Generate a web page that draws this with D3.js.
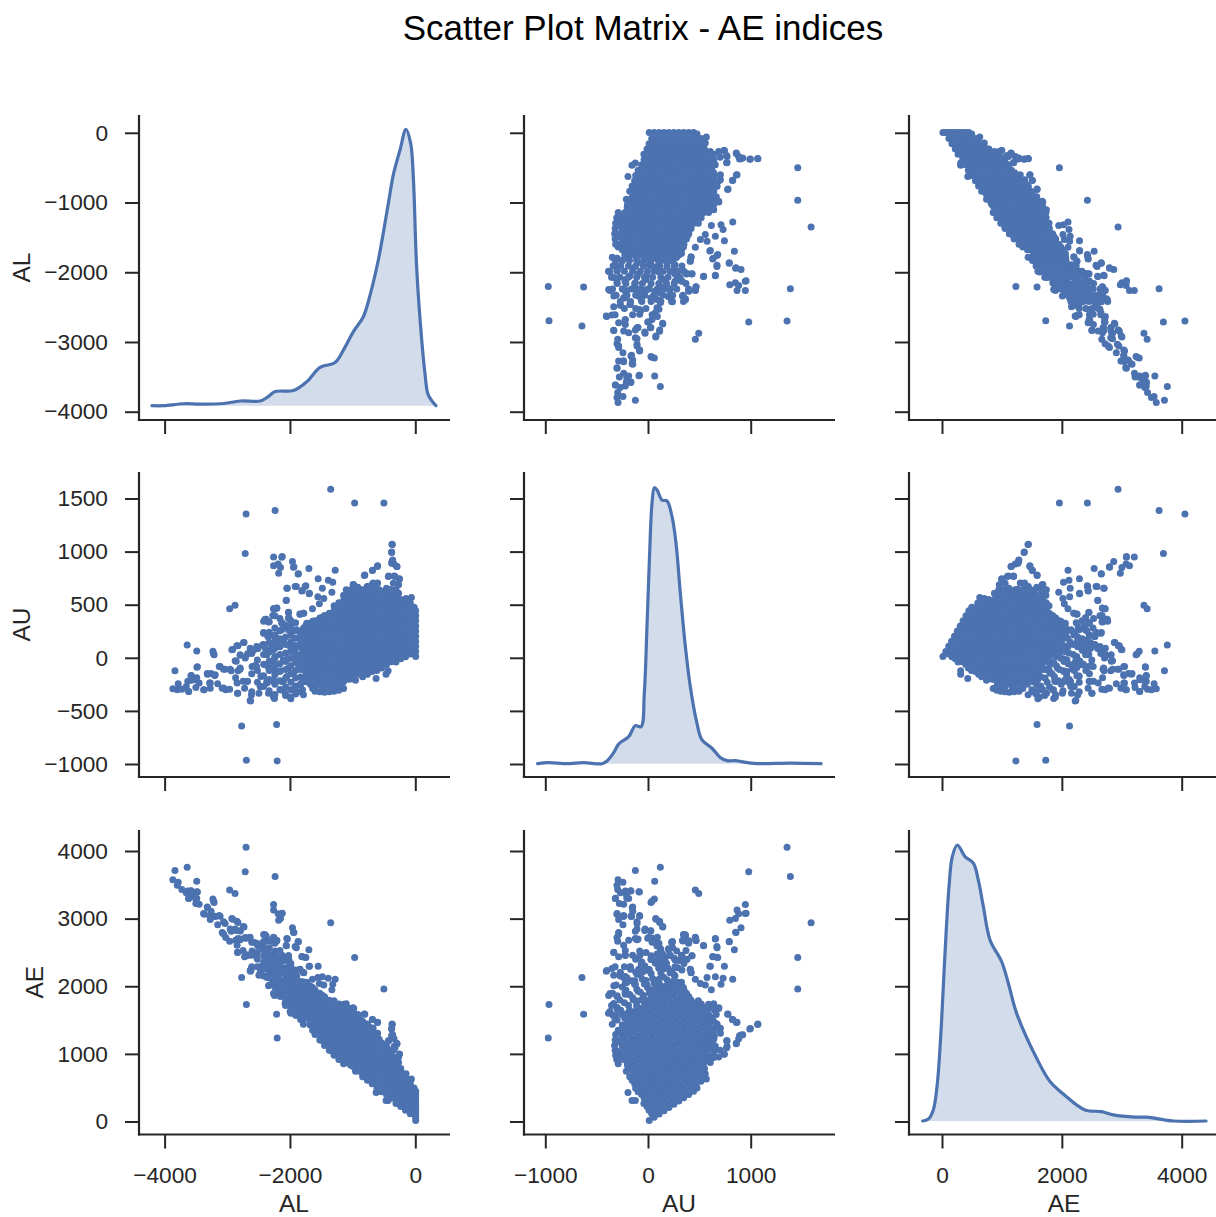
<!DOCTYPE html>
<html><head><meta charset="utf-8">
<script src="https://cdn.jsdelivr.net/npm/d3@7"></script>
<style>html,body{margin:0;padding:0;background:#fff;overflow:hidden}svg{display:block}text{font-family:"Liberation Sans",Arial,sans-serif;fill:#262626}</style>
</head><body><svg id="c" width="1216" height="1217"></svg>
<script>
const title = "Scatter Plot Matrix - AE indices";
const names = ["AL","AU","AE"];
const tickValsX = [[-4000,-2000,0],[-1000,0,1000],[0,2000,4000]];
const tickValsY = [[-4000,-3000,-2000,-1000,0],[-1000,-500,0,500,1000,1500],[0,1000,2000,3000,4000]];

// Scattered samples
const sparseAL = [-3868,-3797,-3783,-3725,-3616,-3654,-3630,-3573,-3573,-3487,-3501,-3449,-3368,-3272,-3282,-3201,-3258,-3320,-3477,-3835,-3487,-3640,-3210,-3229,-3024,-3081,-2962,-3153,-3034,-3115,-2938,-2867,-2843,-2833,-2724,-2676,-2748,-2795,-2829,-2857,-2914,-2829,-2795,-2714,-2733,-2676,-2628,-2614,-2495,-2471,-2461,-2533,-2604,-2581,-2509,-2437,-2414,-2342,-2342,-2380,-2256,-2256,-2209,-2237,-2390,-2271,-2247,-2285,-2342,-2366,-2271,-2247,-2151,-2104,-2151,-2032,-1937,-2104,-2127,-2104,-1984,-2018,-2022,-2056,-2042,-1898,-1803,-1746,-1689,-1779,-1841,-1641,-1550,-1698,-1865,-1937,-1960,-2123,-2180,-2151,-2189,-2261,-2261,-1278,-1317,-1388,-1331,-1483,-1555,-1531,-1460,-806,-682,-601,-625,-954,-434,-467,-367,-377,-372,-339,-291,-425,-339,-253,-267,-267,-267,-410,-148,-62,-19,-601,-768,-673,-577,-983,-1102,-935,-501,-968,-1350,-2237,-2700,-2714,-2204,-2213,-2695,-2771,-2962,-2876,
 -372,-378,-361,-297,-377,-430,-324,-255,-350,-324,-605,-685,-813,
 -2635,-2529,-2422,-2289,-2210,-2104,-1997,-1917,-2369,-2236,-2104,-2263,-2396,-2555,-2316,-2210,-2459,-2263,-2369,-2130,-2050,-2475,-2342,-2263,-2077,-1997,-1891,-1785,-1970,-1838,-1944,-2024,-1864,-1891,-1838,-1838,-1785,-1732,
 -3580,-3314,-3192,-3271,-3484,-3128,-3059,-2953,-2794,-2874,-2794,-2714,-2927,-2847,-2741,-3219,-3511,-3617,-3378,-3059,-2837,-2635,-2688,
 -2130,-1944,-1870,-2050,-1917,-1758,-1811,-1694,-2061,-2024,-2024,-1838,-1785,-2263,-2210,-2273,-2396,-2342,-2422,-2252,-2353,-2130,-2130,-2024,-1891];
const sparseAU = [-292,-302,-244,-295,-318,-270,-221,-211,-166,-188,-279,-237,-302,-286,-237,-166,-149,-149,-84,-123,65,120,29,62,-302,-286,-295,-244,-107,-81,-123,-188,-237,-334,-286,-221,-221,-107,-123,-32,78,114,23,6,143,39,-406,-351,-334,-270,-172,-81,-81,71,88,120,234,201,341,364,396,461,468,218,88,71,-10,-107,-91,-237,-221,-383,-302,-221,-123,-10,88,169,331,282,234,380,429,542,656,672,633,679,607,419,412,461,744,841,792,857,906,955,796,851,883,867,948,825,711,731,617,656,575,510,558,779,825,867,-195,-211,-123,-156,1068,997,906,883,860,770,770,744,688,607,510,640,558,568,477,705,672,705,640,688,640,607,1458,1458,1588,1386,1354,981,-971,-627,-964,-643,461,494,
 1070,991,922,860,891,765,765,740,703,624,860,822,775,
 91,107,122,107,132,154,107,91,28,13,-19,-50,-66,-72,-113,-129,-176,-207,-223,-223,-176,-270,-333,-370,-333,-370,-317,-348,-301,-254,-144,-97,-66,13,122,201,279,326,
 -169,-154,-160,-238,-88,-82,-107,-107,-97,-28,28,-3,75,113,144,38,-207,-317,-301,-285,-333,-402,-223,
 947,853,790,656,671,671,630,602,540,427,373,411,420,461,467,398,364,336,238,210,200,326,263,263,263];
const sparseAE = [3576,3495,3539,3430,3298,3384,3409,3362,3407,3299,3222,3212,3066,2986,3045,3035,3109,3171,3393,3712,3552,3760,3239,3291,2722,2795,2667,2909,2927,3034,2815,2679,2606,2499,2438,2455,2527,2688,2706,2825,2992,2943,2818,2720,2876,2715,2222,2263,2161,2201,2289,2452,2523,2652,2597,2557,2648,2543,2683,2744,2652,2717,2677,2455,2478,2342,2237,2178,2251,2129,2050,1864,1849,1883,2028,2022,2025,2273,2458,2386,2218,2398,2451,2598,2698,2570,2436,2425,2296,2198,2253,2102,2294,2539,2657,2794,2866,3078,2976,3002,3072,3128,3209,2103,2028,2119,1948,2139,2130,2041,2018,1585,1507,1468,430,743,311,311,1435,1374,1278,1222,1151,1195,1109,997,955,874,777,1050,706,630,496,1306,1440,1378,1217,1671,1742,1542,1959,2426,2938,3623,4054,3695,1233,1586,1731,2128,3423,3370,
 1442,1369,1283,1157,1268,1195,1089,995,1053,948,1465,1507,1588,
 2726,2636,2544,2396,2342,2258,2104,2008,2397,2249,2085,2213,2330,2483,2203,2081,2283,2056,2146,1907,1874,2205,2009,1893,1744,1627,1574,1437,1669,1584,1800,1927,1798,1904,1960,2039,2064,2058,
 3411,3160,3032,3033,3396,3046,2952,2846,2697,2846,2822,2711,3002,2960,2885,3257,3304,3300,3077,2774,2504,2233,2465,
 3077,2797,2660,2706,2588,2429,2441,2296,2601,2451,2397,2249,2205,2724,2677,2671,2760,2678,2660,2462,2553,2456,2393,2287,2154];

// Saturated core of the cloud: AL level, then its AU and AE samples
const coreAL = [6,-80,-156,-232,-308,-384,-460,-536,-612,-688,-764,-840,-916,-992,-1068,-1144,-1220,-1296,-1372,-1448,-1524,-1600,-1676,-1752,
 -118,-270,-422,-574,-726,-878,-1030,-1182,-1334,-1486,-1638,-1800,-1830,
 -1910,-1985,-2070,-2160,-2240,-2330,-2420,-2520,-2610];
const coreAU = [
 [12,60,108,156,204,252,300,348,396,444],
 [36,84,132,180,228,276,324,372,420,468,516],
 [10,58,106,154,202,250,298,346,394,442,490,538],
 [-10,34,82,130,178,226,274,322,370,418,466,514,550],
 [-40,10,58,106,154,202,250,298,346,394,442,490,538,586,640],
 [-38,10,58,106,154,202,250,298,346,394,442,490,538,586,640],
 [-62,-14,34,82,130,178,226,274,322,370,418,466,514,562,610,655],
 [-96,-48,0,48,96,144,192,240,288,336,384,432,480,528,576,624],
 [-120,-72,-24,24,72,120,168,216,264,312,360,408,456,504,552,600,645],
 [-130,-82,-34,14,62,110,158,206,254,302,350,398,446,494,542,590,638,690],
 [-154,-106,-58,-10,38,86,134,182,230,278,326,374,422,470,518,566,614,670],
 [-178,-130,-82,-34,14,62,110,158,206,254,302,350,398,446,494,542,590,640],
 [-154,-106,-58,-10,38,86,134,182,230,278,326,374,422,470,518,566,620,665],
 [-178,-130,-82,-34,14,62,110,158,206,254,302,350,398,446,494,542,590,650,690],
 [-202,-154,-106,-58,-10,38,86,134,182,230,278,326,374,422,470,518,566,610],
 [-290,-226,-178,-130,-82,-34,14,62,110,158,206,254,302,350,398,446,494,542,590],
 [-305,-250,-202,-154,-106,-58,-10,38,86,134,182,230,278,326,374,422,470,518],
 [-315,-274,-226,-178,-130,-82,-34,14,62,110,158,206,254,302,350,398,446,490],
 [-320,-250,-202,-154,-106,-58,-10,38,86,134,182,230,278,326,374,420],
 [-325,-274,-226,-178,-130,-82,-34,14,62,110,158,206,254,302,350,398],
 [-320,-250,-202,-154,-106,-58,-10,38,86,134,182,230,278,326,374],
 [-315,-274,-226,-178,-130,-82,-34,14,62,110,158,206,254,302,350],
 [-250,-202,-154,-106,-58,-10,38,86,134,182,230,278,326],
 [-226,-178,-130,-82,-34,14,62,110,158,206,254,300],
 [60,156,252,348,444],
 [30,126,222,318,414,510],
 [-30,66,162,258,354,450,546],
 [-60,36,132,228,324,420,516,612],
 [-100,-4,92,188,284,380,476,572,668],
 [-140,-44,52,148,244,340,436,532,628],
 [-200,-104,-8,88,184,280,376,472,568,640],
 [-260,-164,-68,28,124,220,316,412,508],
 [-290,-194,-98,-2,94,190,286,382],
 [-290,-194,-98,-2,94,190,286,382],
 [-290,-194,-98,-2,94,190,286,345],
 [-300,-204,-108,-12,84,180,260],
 [-320,-250,-180,-110,-40,30,100,170,240],
 [-340,-265,-190,-120,-45,40,115,185,255,330],
 [-385,-300,-230,-150,-75,-5,60,150,215,290,350],
 [-355,-275,-190,-110,-35,45,125,195,310],
 [-300,-215,-130,-55,30,105,180,255,370],
 [-345,-250,-160,-75,5,90,165,280,395],
 [-310,-205,-120,-30,55,145,240,340],
 [-270,-170,-60,30,125,230,345],
 [-230,-120,-20,90],
 [-320,-150,40]];
const coreAE = [
 [16,64,112,160,208,256,304,352,400,448],
 [116,164,212,260,308,356,404,452,500,548,596],
 [166,214,262,310,358,406,454,502,550,598,646,694],
 [222,266,314,362,410,458,506,554,602,650,698,746,782],
 [268,318,366,414,462,510,558,606,654,702,750,798,846,894,948],
 [346,394,442,490,538,586,634,682,730,778,826,874,922,970,1024],
 [398,446,494,542,590,638,686,734,782,830,878,926,974,1022,1070,1115],
 [440,488,536,584,632,680,728,776,824,872,920,968,1016,1064,1112,1160],
 [492,540,588,636,684,732,780,828,876,924,972,1020,1068,1116,1164,1212,1257],
 [558,606,654,702,750,798,846,894,942,990,1038,1086,1134,1182,1230,1278,1326,1378],
 [610,658,706,754,802,850,898,946,994,1042,1090,1138,1186,1234,1282,1330,1378,1434],
 [662,710,758,806,854,902,950,998,1046,1094,1142,1190,1238,1286,1334,1382,1430,1480],
 [762,810,858,906,954,1002,1050,1098,1146,1194,1242,1290,1338,1386,1434,1482,1536,1581],
 [814,862,910,958,1006,1054,1102,1150,1198,1246,1294,1342,1390,1438,1486,1534,1582,1642,1682],
 [866,914,962,1010,1058,1106,1154,1202,1250,1298,1346,1394,1442,1490,1538,1586,1634,1678],
 [854,918,966,1014,1062,1110,1158,1206,1254,1302,1350,1398,1446,1494,1542,1590,1638,1686,1734],
 [915,970,1018,1066,1114,1162,1210,1258,1306,1354,1402,1450,1498,1546,1594,1642,1690,1738],
 [981,1022,1070,1118,1166,1214,1262,1310,1358,1406,1454,1502,1550,1598,1646,1694,1742,1786],
 [1052,1122,1170,1218,1266,1314,1362,1410,1458,1506,1554,1602,1650,1698,1746,1792],
 [1123,1174,1222,1270,1318,1366,1414,1462,1510,1558,1606,1654,1702,1750,1798,1846],
 [1204,1274,1322,1370,1418,1466,1514,1562,1610,1658,1706,1754,1802,1850,1898],
 [1285,1326,1374,1422,1470,1518,1566,1614,1662,1710,1758,1806,1854,1902,1950],
 [1426,1474,1522,1570,1618,1666,1714,1762,1810,1858,1906,1954,2002],
 [1526,1574,1622,1670,1718,1766,1814,1862,1910,1958,2006,2052],
 [178,274,370,466,562],
 [300,396,492,588,684,780],
 [392,488,584,680,776,872,968],
 [514,610,706,802,898,994,1090,1186],
 [626,722,818,914,1010,1106,1202,1298,1394],
 [738,834,930,1026,1122,1218,1314,1410,1506],
 [830,926,1022,1118,1214,1310,1406,1502,1598,1670],
 [922,1018,1114,1210,1306,1402,1498,1594,1690],
 [1044,1140,1236,1332,1428,1524,1620,1716],
 [1196,1292,1388,1484,1580,1676,1772,1868],
 [1348,1444,1540,1636,1732,1828,1924,1983],
 [1500,1596,1692,1788,1884,1980,2060],
 [1510,1580,1650,1720,1790,1860,1930,2000,2070],
 [1570,1645,1720,1790,1865,1950,2025,2095,2165,2240],
 [1600,1685,1755,1835,1910,1980,2045,2135,2200,2275,2335],
 [1715,1795,1880,1960,2035,2115,2195,2265,2380],
 [1860,1945,2030,2105,2190,2265,2340,2415,2530],
 [1895,1990,2080,2165,2245,2330,2405,2520,2635],
 [2020,2125,2210,2300,2385,2475,2570,2670],
 [2150,2250,2360,2450,2545,2650,2765],
 [2290,2400,2500,2610],
 [2290,2460,2650]];

// Density curves on the diagonal: value, density relative to the peak
const kdeALx = [-4202,-4016,-3697,-3432,-3060,-2794,-2475,-2369,-2236,-1944,-1732,-1519,-1280,-1147,-988,-829,-722,-590,-430,-351,-244,-149,-74,-32,21,85,154,207,329];
const kdeALy = [0,0,.007,.006,.008,.017,.017,.029,.051,.055,.087,.139,.156,.201,.268,.322,.4,.527,.732,.835,.925,1,.949,.829,.503,.286,.117,.039,0];
const kdeAUx = [-1075,-968,-790,-627,-448,-399,-334,-286,-188,-123,-68,-36,-10,23,39,62,88,136,185,234,273,315,364,412,477,526,623,705,770,851,1030,1387,1685];
const kdeAUy = [0,.004,0,.004,0,.01,.04,.071,.098,.138,.134,.255,.496,.834,.943,1,.992,.955,.952,.895,.798,.617,.424,.279,.146,.086,.056,.022,.011,.011,.001,.002,0];
const kdeAEx = [-323,-228,-145,-78,-6,50,117,172,256,384,523,606,690,801,996,1107,1246,1580,1802,2025,2387,2665,2859,3221,3416,3861,4406];
const kdeAEy = [0,.007,.04,.136,.366,.607,.849,.958,1,.958,.934,.873,.777,.656,.577,.499,.39,.227,.143,.098,.04,.034,.022,.014,.014,0,0];

const blue = "#4c72b0", ink = "#262626";
const colL = [139,524,909], colR = [450,835,1220];
const rowT = [115,472,830], rowB = [420,777,1134.5];
const xs = [
  d3.scaleLinear([-4000,0],[164.6,415.3]),
  d3.scaleLinear([-1000,1000],[545.3,750.7]),
  d3.scaleLinear([0,4000],[942,1181.7])];
const ys = [
  d3.scaleLinear([-4000,0],[411.7,132.8]),
  d3.scaleLinear([-1000,1500],[764,498.5]),
  d3.scaleLinear([0,4000],[1121.5,851])];
const kde = [
  {x:kdeALx,y:kdeALy,base:405.7,peak:129.3},
  {x:kdeAUx,y:kdeAUy,base:763.7,peak:487.7},
  {x:kdeAEx,y:kdeAEy,base:1121,peak:845}];

const rows = [];
sparseAL.forEach((v,i)=>rows.push([v,sparseAU[i],sparseAE[i]]));
coreAL.forEach((v,c)=>coreAU[c].forEach((u,i)=>rows.push([v,u,coreAE[c][i]])));

const svg = d3.select("#c");
svg.append("text").attr("x",643).attr("y",40).attr("text-anchor","middle").attr("font-size",35).style("fill","#000").text(title);

const fmt = d3.format("d");
for (let r=0;r<3;r++) for (let c=0;c<3;c++) {
  const g = svg.append("g");
  if (r===c) {
    const k = kde[r], dens = d3.scaleLinear([0,1],[k.base,k.peak]);
    const pts = k.x.map((v,i)=>[v,k.y[i]]);
    g.append("path").datum(pts).attr("fill",blue).attr("fill-opacity",.25)
      .attr("d",d3.area().x(d=>xs[c](d[0])).y0(k.base).y1(d=>dens(d[1])).curve(d3.curveCatmullRom.alpha(.5)));
    g.append("path").datum(pts).attr("fill","none").attr("stroke",blue).attr("stroke-width",3.2)
      .attr("stroke-linecap","round").attr("stroke-linejoin","round")
      .attr("d",d3.line().x(d=>xs[c](d[0])).y(d=>dens(d[1])).curve(d3.curveCatmullRom.alpha(.5)));
  } else {
    g.selectAll("circle").data(rows).join("circle")
      .attr("cx",d=>xs[c](d[c])).attr("cy",d=>ys[r](d[r])).attr("r",3.5).attr("fill",blue);
  }
  // axes
  const ax = d3.axisBottom(xs[c]).tickValues(tickValsX[c]).tickSize(14).tickSizeOuter(0).tickPadding(r===2?18.5:0)
    .tickFormat(r===2 ? (v=>fmt(v)) : "");
  const ay = d3.axisLeft(ys[r]).tickValues(tickValsY[r]).tickSize(14).tickSizeOuter(0).tickPadding(17)
    .tickFormat(c===0 ? (v=>fmt(v)) : "");
  [g.append("g").attr("transform",`translate(0,${rowB[r]})`).call(ax),
   g.append("g").attr("transform",`translate(${colL[c]},0)`).call(ay)].forEach(a=>{
    a.select(".domain").remove();
    a.selectAll(".tick line").attr("stroke",ink).attr("stroke-width",2);
    a.selectAll(".tick text").attr("font-size",22.7).attr("font-family",'"Liberation Sans",Arial,sans-serif').attr("fill",ink);
  });
  g.append("line").attr("x1",colL[c]).attr("x2",colL[c]).attr("y1",rowT[r]).attr("y2",rowB[r]+1.1).attr("stroke",ink).attr("stroke-width",2.2);
  g.append("line").attr("x1",colL[c]-1.1).attr("x2",colR[c]).attr("y1",rowB[r]).attr("y2",rowB[r]).attr("stroke",ink).attr("stroke-width",2.2);
  if (r===2) g.append("text").attr("x",(colL[c]+colR[c])/2-.5).attr("y",1211.7).attr("text-anchor","middle").attr("font-size",24.5).text(names[c]);
  if (c===0) {
    const lx = r===2 ? 43 : 29.5;
    g.append("text").attr("transform",`translate(${lx},${(rowT[r]+rowB[r])/2}) rotate(-90)`).attr("text-anchor","middle").attr("font-size",24.5).text(names[r]);
  }
}
</script></body></html>
